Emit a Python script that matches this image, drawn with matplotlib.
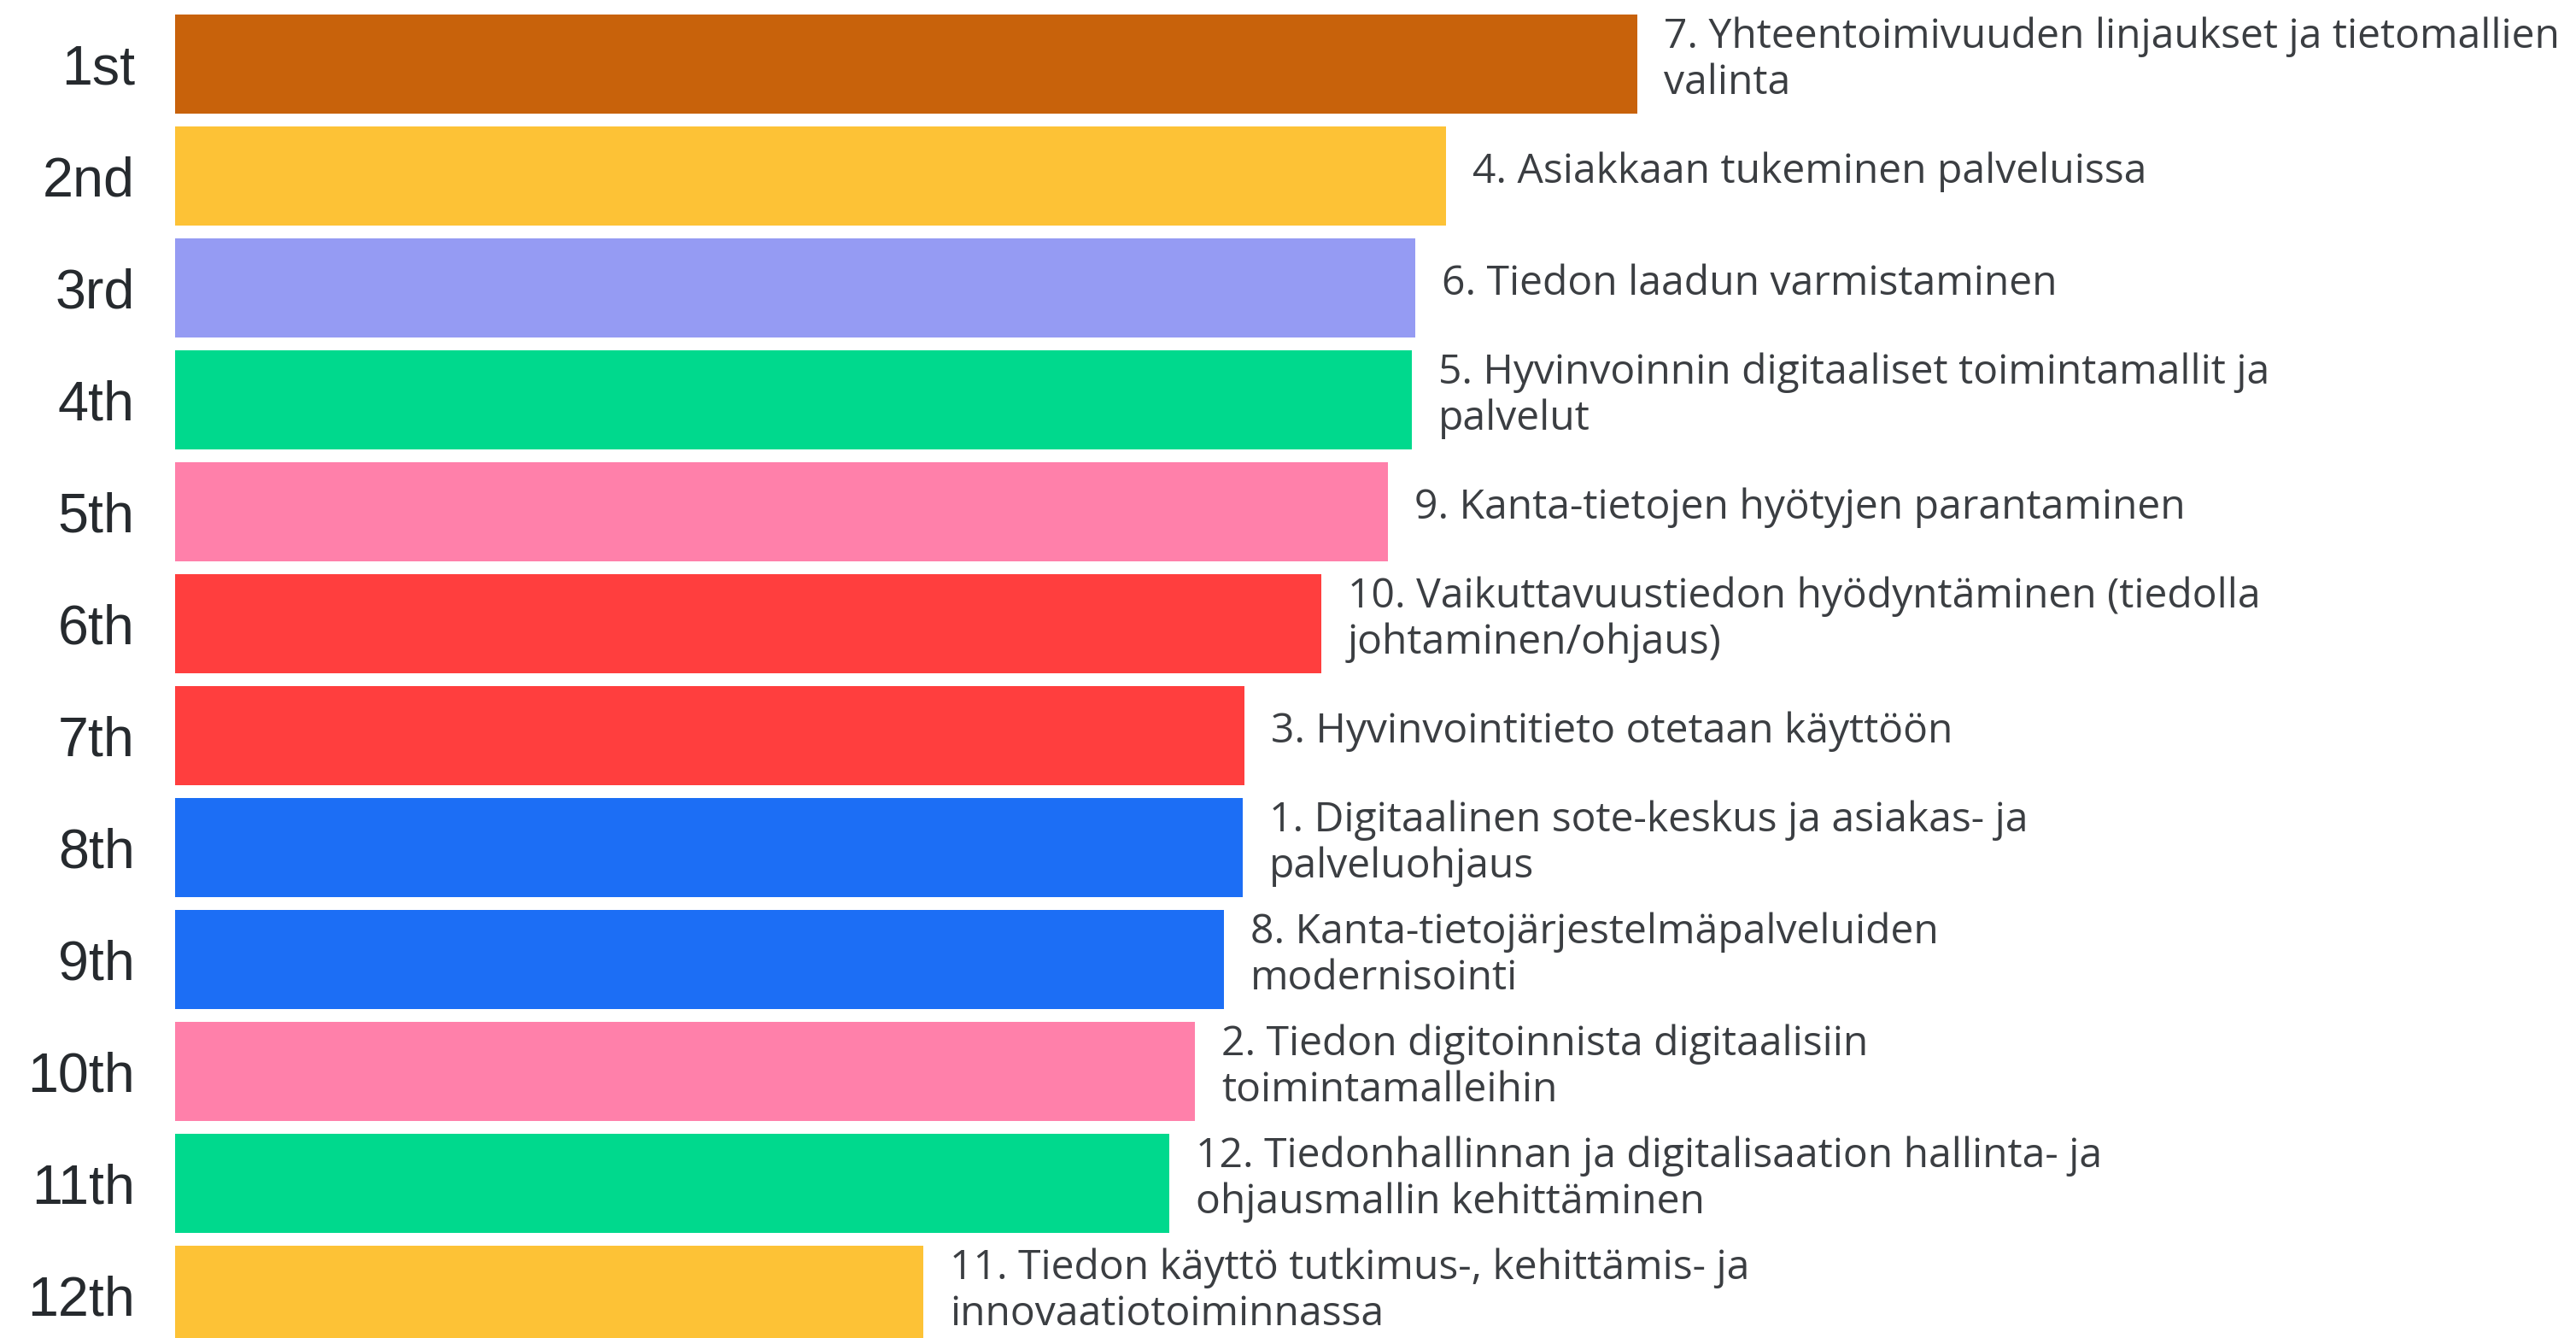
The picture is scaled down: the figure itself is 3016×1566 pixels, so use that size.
import matplotlib
matplotlib.use("Agg")
import matplotlib.pyplot as plt

ranks = ["1st", "2nd", "3rd", "4th", "5th", "6th", "7th", "8th", "9th", "10th", "11th", "12th"]
scores = [8.56, 7.44, 7.26, 7.24, 7.10, 6.71, 6.26, 6.25, 6.14, 5.97, 5.82, 4.38]
topics = [
    "7. Yhteentoimivuuden linjaukset ja tietomallien\nvalinta",
    "4. Asiakkaan tukeminen palveluissa",
    "6. Tiedon laadun varmistaminen",
    "5. Hyvinvoinnin digitaaliset toimintamallit ja\npalvelut",
    "9. Kanta-tietojen hyötyjen parantaminen",
    "10. Vaikuttavuustiedon hyödyntäminen (tiedolla\njohtaminen/ohjaus)",
    "3. Hyvinvointitieto otetaan käyttöön",
    "1. Digitaalinen sote-keskus ja asiakas- ja\npalveluohjaus",
    "8. Kanta-tietojärjestelmäpalveluiden\nmodernisointi",
    "2. Tiedon digitoinnista digitaalisiin\ntoimintamalleihin",
    "12. Tiedonhallinnan ja digitalisaation hallinta- ja\nohjausmallin kehittäminen",
    "11. Tiedon käyttö tutkimus-, kehittämis- ja\ninnovaatiotoiminnassa",
]
colors = ["#C8620B", "#FDC236", "#959BF3", "#00D98D", "#FF80AA", "#FF3E3E",
          "#FF3E3E", "#1C6EF5", "#1C6EF5", "#FF80AA", "#00D98D", "#FDC236"]

W, H = 3016, 1566
fig = plt.figure(figsize=(W / 100, H / 100), dpi=100)
left = 205 / W
ax = fig.add_axes([left, 0, 1 - left, 1])

y = list(range(len(ranks)))
ax.barh(y, scores, height=0.885, color=colors, edgecolor="none")

ax.set_xlim(0, (W - 205) / 200)
ax.set_ylim(11.382, -0.5725)

ax.set_yticks(y)
ax.set_yticklabels(ranks, fontsize=46.5, color="#262a2e", family="Liberation Sans")
ax.tick_params(axis="y", length=0, pad=34)
ax.set_xticks([])
for s in ax.spines.values():
    s.set_visible(False)

for yi, v, t in zip(y, scores, topics):
    ax.text(v + 0.155, yi - 0.035, t, va="center", ha="left", fontsize=34.6,
            color="#3b3e42", family="Open Sans", linespacing=1.18)

fig.savefig("out.png", dpi=100, facecolor="white")
